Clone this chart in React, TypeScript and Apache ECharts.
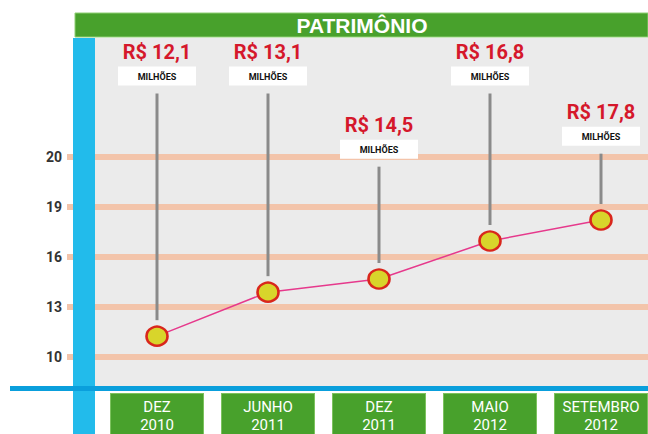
import React, { useEffect, useRef } from 'react';
import * as echarts from 'echarts';

const title = 'PATRIMÔNIO';
const unit = 'MILHÕES';
const categories = ['DEZ\n2010', 'JUNHO\n2011', 'DEZ\n2011', 'MAIO\n2012', 'SETEMBRO\n2012'];
// Amounts written in the callouts (R$ millions)
const amounts = [12.1, 13.1, 14.5, 16.8, 17.8];
// Height of each marker as read on the drawn axis
const plotted = [11.25, 13.89, 14.68, 16.96, 18.22];
// Height (axis units) of the top of each callout box
const calloutLevel = [27.43, 27.43, 23.04, 27.43, 23.82];
const yTicks = [10, 13, 16, 19, 22];
const yTickLabels = ['10', '13', '16', '19', '20'];

const FONT = "Roboto, 'Liberation Sans', sans-serif";

export default function App() {
  const ref = useRef<HTMLDivElement>(null);
  useEffect(() => {
    if (!ref.current) return;
    const chart = echarts.init(ref.current, undefined, { renderer: 'svg' });
    const fmt = (v: number) => 'R$ ' + v.toFixed(1).replace('.', ',');
    const option: any = {
      animation: false,
      backgroundColor: '#ffffff',
      grid: [
        { left: 67, right: 0, top: 157, height: 200, outerBoundsMode: 'none', containLabel: false },
        { left: 157, right: 47, top: 157, height: 200, outerBoundsMode: 'none', containLabel: false },
      ],
      xAxis: [
        { gridIndex: 0, type: 'value', show: false, min: 0, max: 1 },
        {
          gridIndex: 1,
          type: 'category',
          data: categories,
          boundaryGap: false,
          axisLine: { show: false },
          axisTick: { show: false },
          axisLabel: {
            interval: 0,
            margin: 37,
            color: '#ffffff',
            fontFamily: FONT,
            fontSize: 15,
            lineHeight: 18,
            backgroundColor: '#48a12c',
            borderColor: '#7cc25e',
            borderWidth: 1,
            width: 92,
            height: 42,
            padding: [4, 0, 0, 0],
            align: 'center',
            verticalAlign: 'top',
          },
        },
      ],
      yAxis: [
        {
          gridIndex: 0,
          type: 'value',
          min: 10,
          max: 22,
          interval: 3,
          axisLine: { show: false },
          axisTick: { show: false },
          splitLine: { show: true, lineStyle: { color: '#f3c4aa', width: 6 } },
          axisLabel: {
            margin: 5,
            color: '#333333',
            fontFamily: FONT,
            fontWeight: 'bold',
            fontSize: 14,
            formatter: (v: number) => {
              const i = yTicks.indexOf(v);
              return i >= 0 ? yTickLabels[i] : '';
            },
          },
        },
        { gridIndex: 1, type: 'value', min: 10, max: 22, show: false, splitLine: { show: false } },
      ],
      graphic: [
        { type: 'rect', z: -10, shape: { x: 95, y: 38, width: 553, height: 348 }, style: { fill: '#ebebeb' } },
        { type: 'rect', z: -10, shape: { x: 75, y: 13, width: 573, height: 24 }, style: { fill: '#48a12c', stroke: '#8fcf75', lineWidth: 1 } },
        {
          type: 'text', z: 5, x: 362, y: 25,
          style: { text: title, fill: '#ffffff', font: "bold 21px 'Liberation Sans', sans-serif", align: 'center', verticalAlign: 'middle' },
        },
        { type: 'rect', z: 5, shape: { x: 73, y: 38, width: 22, height: 396 }, style: { fill: '#22bbeb' } },
        { type: 'rect', z: 6, shape: { x: 10, y: 386, width: 638, height: 5 }, style: { fill: '#0a9fdc' } },
      ],
      series: [
        {
          type: 'custom',
          xAxisIndex: 1,
          yAxisIndex: 1,
          clip: false,
          z: 3,
          data: categories.map((_, i) => [i, plotted[i], calloutLevel[i], amounts[i]]),
          renderItem: (params: any, api: any) => {
            const p = api.coord([api.value(0), api.value(1)]);
            const b = api.coord([api.value(0), api.value(2)]);
            const x = p[0];
            const boxTop = b[1];
            const boxH = 19;
            const boxW = 78;
            return {
              type: 'group',
              children: [
                {
                  type: 'line',
                  shape: { x1: x, y1: boxTop + boxH + 8, x2: x, y2: p[1] - 16 },
                  style: { stroke: '#8a8a8a', lineWidth: 3 },
                },
                {
                  type: 'rect',
                  shape: { x: x - boxW / 2, y: boxTop, width: boxW, height: boxH },
                  style: { fill: '#ffffff' },
                },
                {
                  type: 'text',
                  x: x,
                  y: boxTop + boxH / 2 + 0.5,
                  style: {
                    text: unit, fill: '#111111', fontFamily: FONT, fontWeight: 'bold', fontSize: 9,
                    align: 'center', verticalAlign: 'middle',
                  },
                },
                {
                  type: 'text',
                  x: x,
                  y: boxTop - 15,
                  style: {
                    text: fmt(api.value(3)), fill: '#d5182b', fontFamily: FONT, fontWeight: 'bold', fontSize: 20,
                    align: 'center', verticalAlign: 'middle',
                  },
                },
              ],
            };
          },
        },
        {
          type: 'line',
          xAxisIndex: 1,
          yAxisIndex: 1,
          data: plotted,
          z: 4,
          symbol: 'circle',
          symbolSize: [21, 19],
          lineStyle: { color: '#e6398c', width: 1.5 },
          itemStyle: { color: '#d8d52b', borderColor: '#d9261c', borderWidth: 2.5 },
        },
      ],
    };
    chart.setOption(option);
    return () => chart.dispose();
  }, []);
  return <div ref={ref} style={{ position: 'fixed', left: 0, top: 0, width: 648, height: 434 }} />;
}
